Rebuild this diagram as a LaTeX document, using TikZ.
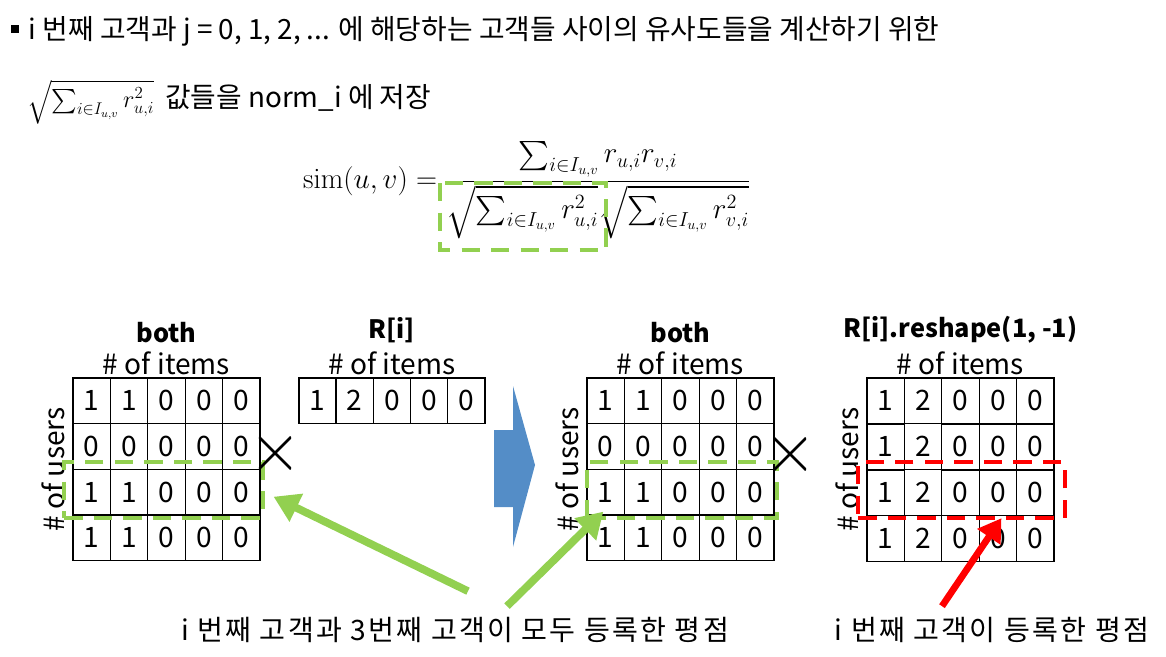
\documentclass[tikz,border=0pt]{standalone}
\usepackage{amsmath}
\usepackage[no-math]{fontspec}
\setmainfont{Noto Sans CJK KR}
\usepackage{tikz}
\usetikzlibrary{arrows.meta,positioning,calc,matrix,fit}
\definecolor{cgreen}{RGB}{146,208,80}
\definecolor{cred}{RGB}{255,0,0}
\definecolor{cblue}{RGB}{84,141,199}

\begin{document}
\begin{tikzpicture}[
    x=0.025cm, y=-0.025cm,
    cell/.style={
        draw,
        line width=0.9pt,
        minimum width=0.935cm,
        minimum height=1.1425cm,
        inner sep=0pt,
        font=\fontsize{20}{24}\selectfont
    },
    grid/.style={
        matrix of nodes,
        inner sep=0pt,
        column sep=-0.9pt,
        row sep=-0.9pt,
        nodes={cell}
    },
    colhead/.style={
        inner sep=1pt,
        font=\fontsize{20}{24}\selectfont
    },
    title/.style={
        inner sep=1pt,
        font=\fontsize{18}{22}\selectfont\bfseries
    },
    gbox/.style={
        draw=cgreen,
        line width=2.8pt,
        dash pattern=on 13pt off 8pt
    },
    rbox/.style={
        draw=cred,
        line width=2.8pt,
        dash pattern=on 13pt off 8pt
    },
    xmark/.style={
        minimum size=0.8cm,
        inner sep=0pt,
        path picture={
            \draw[line width=1.8pt]
                (path picture bounding box.north west) -- (path picture bounding box.south east)
                (path picture bounding box.north east) -- (path picture bounding box.south west);
        }
    },
    garr/.style={
        -{Triangle[length=18pt,width=21pt]},
        line width=5.5pt,
        draw=cgreen
    },
    rarr/.style={
        -{Triangle[length=16pt,width=19pt]},
        line width=4.8pt,
        draw=cred
    },
    note/.style={
        inner sep=2pt,
        font=\fontsize{19.8}{24}\selectfont
    },
    label/.style={
        inner sep=2pt,
        font=\fontsize{20}{24}\selectfont\addfontfeature{LetterSpace=8}
    }
]
\useasboundingbox (0,0) rectangle (1166,657);

% Text at the top
\node[note, anchor=west] (intro) at (8,31) {\raisebox{0.22em}{\rule{5.5pt}{5.5pt}}\hspace{7pt}i 번째 고객과 j = 0, 1, 2, ... 에 해당하는 고객들 사이의 유사도들을 계산하기 위한};
\node[note, anchor=west] (store) at (24,102) {{\fontsize{17}{20}\selectfont$\sqrt{\textstyle\sum_{i\in I_{u,v}} r_{u,i}^2}$}\, 값들을 norm\_i 에 저장};

% Similarity formula
\node[note, anchor=west, font=\fontsize{20}{24}\selectfont] (simeq) at (300,190) {$\displaystyle \mathrm{sim}(u,v) = \frac{\sum_{i\in I_{u,v}} r_{u,i}r_{v,i}}{\sqrt{\sum_{i\in I_{u,v}} r_{u,i}^2}\sqrt{\sum_{i\in I_{u,v}} r_{v,i}^2}}$};
\draw[gbox] (440,183) rectangle (606,250);

% Left side: both x R[i]
\matrix[grid, anchor=north west] (b1) at (72,377) {
    1 & 1 & 0 & 0 & 0 \\
    0 & 0 & 0 & 0 & 0 \\
    1 & 1 & 0 & 0 & 0 \\
    1 & 1 & 0 & 0 & 0 \\
};
\node[colhead, above=0pt of b1] (b1items) {\# of items};
\node[title, above=4pt of b1items] (b1name) {both};
\node[colhead, rotate=90, anchor=south] (b1users) at ([xshift=-4pt]b1.west) {\# of users};
\node[gbox, fit=(b1-3-1)(b1-3-5), inner xsep=5*0.025cm, inner ysep=4.5*0.025cm, xshift=-3*0.025cm, yshift=2.5*0.025cm] (g1) {};
\node[xmark] (x1) at (275,453) {};

\matrix[grid, anchor=north west, nodes={minimum width=0.93cm}] (r1) at (298,377) {
    1 & 2 & 0 & 0 & 0 \\
};
\node[colhead, above=0pt of r1] (r1items) {\# of items};
\node[title, above=4pt of r1items] (r1name) {R[i]};

% Block arrow
\fill[cblue] (494,430) -- (513,430) -- (513,386) -- (535,465) -- (513,547) -- (513,507) -- (494,507) -- cycle;

% Right side: both x R[i].reshape(1, -1)
\matrix[grid, anchor=north west] (b2) at (586,377) {
    1 & 1 & 0 & 0 & 0 \\
    0 & 0 & 0 & 0 & 0 \\
    1 & 1 & 0 & 0 & 0 \\
    1 & 1 & 0 & 0 & 0 \\
};
\node[colhead, above=0pt of b2] (b2items) {\# of items};
\node[title, above=4pt of b2items] (b2name) {both};
\node[colhead, rotate=90, anchor=south] (b2users) at ([xshift=-4pt]b2.west) {\# of users};
\node[gbox, fit=(b2-3-1)(b2-3-5), inner xsep=0.5*0.025cm, inner ysep=4.5*0.025cm, xshift=1.5*0.025cm, yshift=2.5*0.025cm] (g2) {};
\node[xmark] (x2) at (790,454) {};

\matrix[grid, anchor=north west] (r2) at (866,377) {
    1 & 2 & 0 & 0 & 0 \\
    1 & 2 & 0 & 0 & 0 \\
    1 & 2 & 0 & 0 & 0 \\
    1 & 2 & 0 & 0 & 0 \\
};
\node[colhead, above=0pt of r2] (r2items) {\# of items};
\node[title, above=4pt of r2items] (r2name) {R[i].reshape(1, -1)};
\node[colhead, rotate=90, anchor=south] (r2users) at ([xshift=-4pt]r2.west) {\# of users};
\node[rbox, fit=(r2-3-1)(r2-3-5), inner xsep=9*0.025cm, inner ysep=4.5*0.025cm, xshift=1*0.025cm, yshift=2.5*0.025cm] (rr) {};

% Labels at the bottom
\node[label] (both3) at (455,630) {i 번째 고객과 3번째 고객이 모두 등록한 평점};
\node[label] (onlyi) at (992,630) {i 번째 고객이 등록한 평점};

% Pointer arrows
\draw[garr] ($(both3.north)+(13,-23)$) -- ($(g1.east)+(9,7)$);
\draw[garr] ($(both3.north)+(52,-8)$) -- ($(g2.south west)+(18,-8)$);
\draw[rarr] ($(onlyi.north)+(-50,-8)$) -- ($(rr.south)+(40,-2)$);

\end{tikzpicture}
\end{document}
